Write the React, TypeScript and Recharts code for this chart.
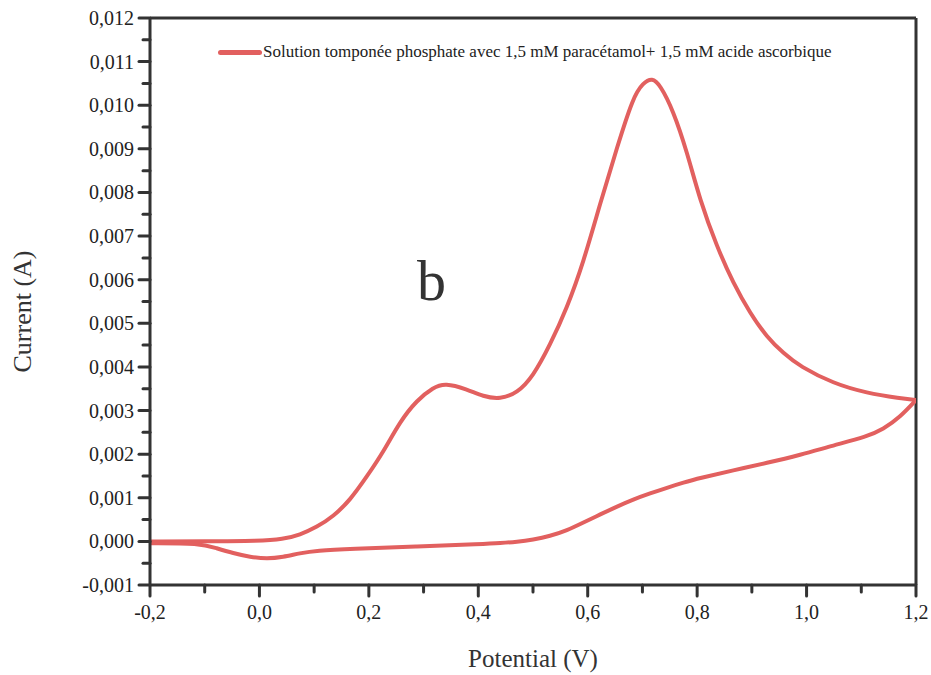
import React from 'react';
import { LineChart, Line, XAxis, YAxis, Legend, ReferenceLine } from 'recharts';

// forward (anodic) sweep, -0.2 V -> 1.2 V
const FORWARD_POTENTIAL = [
  -0.2, -0.1, 0.0, 0.043, 0.074, 0.105, 0.135, 0.166, 0.196, 0.227, 0.257, 0.288,
  0.318, 0.339, 0.379, 0.409, 0.44, 0.471, 0.5, 0.531, 0.562, 0.592, 0.623, 0.654,
  0.683, 0.701, 0.718, 0.732, 0.756, 0.782, 0.805, 0.836, 0.866, 0.897, 0.927, 0.958,
  0.988, 1.049, 1.11, 1.171, 1.2,
];
const FORWARD_CURRENT = [
  0.0, 0.0, 0.00001, 0.00005, 0.00015, 0.00033, 0.00057, 0.00095, 0.00148, 0.00206, 0.00275, 0.00324,
  0.00353, 0.00363, 0.00349, 0.00332, 0.00326, 0.0034, 0.00378, 0.0045, 0.00535, 0.00639, 0.00776, 0.00905,
  0.01019, 0.01051, 0.01063, 0.01047, 0.00989, 0.00891, 0.00783, 0.00676, 0.00592, 0.00523, 0.00469, 0.00431,
  0.00401, 0.00362, 0.0034, 0.00328, 0.00324,
];

// return sweep, listed by increasing potential
const RETURN_POTENTIAL = [
  -0.2, -0.109, -0.078, -0.048, -0.017, 0.014, 0.043, 0.074, 0.105, 0.166, 0.288, 0.409,
  0.44, 0.471, 0.5, 0.531, 0.562, 0.592, 0.623, 0.654, 0.683, 0.714, 0.745, 0.775,
  0.805, 0.866, 0.928, 0.988, 1.049, 1.11, 1.14, 1.171, 1.2,
];
const RETURN_CURRENT = [
  -0.00004, -0.00004, -0.00016, -0.00027, -0.00036, -0.0004, -0.00036, -0.00027, -0.00021, -0.00017, -0.00012, -0.00006,
  -0.00004, -0.00001, 0.00004, 0.00012, 0.00025, 0.00043, 0.00062, 0.0008, 0.00096, 0.0011, 0.00123, 0.00135,
  0.00145, 0.00163, 0.0018, 0.00198, 0.0022, 0.0024, 0.00257, 0.00285, 0.00324,
];

const X_TICKS = [-0.2, -0.1, 0, 0.1, 0.2, 0.3, 0.4, 0.5, 0.6, 0.7, 0.8, 0.9, 1.0, 1.1, 1.2];
const X_MAJOR = [-0.2, 0, 0.2, 0.4, 0.6, 0.8, 1.0, 1.2];
const Y_TICKS = [
  -0.001, -0.0005, 0, 0.0005, 0.001, 0.0015, 0.002, 0.0025, 0.003, 0.0035, 0.004, 0.0045, 0.005,
  0.0055, 0.006, 0.0065, 0.007, 0.0075, 0.008, 0.0085, 0.009, 0.0095, 0.01, 0.0105, 0.011, 0.0115, 0.012,
];
const Y_MAJOR = [-0.001, 0, 0.001, 0.002, 0.003, 0.004, 0.005, 0.006, 0.007, 0.008, 0.009, 0.01, 0.011, 0.012];

const SERIES_NAME = 'Solution tomponée phosphate avec 1,5 mM paracétamol+ 1,5 mM acide ascorbique';

const forwardData = FORWARD_POTENTIAL.map((x, i) => ({ x, y: FORWARD_CURRENT[i] }));
const returnData = RETURN_POTENTIAL.map((x, i) => ({ x, y: RETURN_CURRENT[i] }));

const SERIF = '"Liberation Serif", "DejaVu Serif", serif';
const AXIS = '#333333';
const RED = '#e2605f';

const isMajor = (v: number, list: number[]) => list.some(m => Math.abs(m - v) < 1e-9);

const XTick: React.FC<any> = ({ x, y, payload }) => {
  const major = isMajor(payload.value, X_MAJOR);
  return (
    <g>
      <line x1={x} x2={x} y1={y} y2={y + (major ? 11 : 7)} stroke={AXIS} strokeWidth={3} strokeLinecap="round" />
      {major && (
        <text x={x} y={y + 34} textAnchor="middle" fill="#222" fontSize={20} fontFamily={SERIF}>
          {payload.value.toFixed(1).replace('.', ',')}
        </text>
      )}
    </g>
  );
};

const YTick: React.FC<any> = ({ x, y, payload }) => {
  const major = isMajor(payload.value, Y_MAJOR);
  return (
    <g>
      <line x1={x - (major ? 11 : 7)} x2={x} y1={y} y2={y} stroke={AXIS} strokeWidth={3} strokeLinecap="round" />
      {major && (
        <text x={x - 16} y={y + 7} textAnchor="end" fill="#222" fontSize={20} fontFamily={SERIF}>
          {payload.value.toFixed(3).replace('.', ',')}
        </text>
      )}
    </g>
  );
};

const LegendContent: React.FC<any> = () => (
  <div style={{ display: 'flex', alignItems: 'center', fontFamily: SERIF, fontSize: 17, color: '#222', whiteSpace: 'nowrap' }}>
    <span style={{ display: 'inline-block', width: 44, height: 5, borderRadius: 3, background: RED, marginRight: 1 }} />
    <span>{SERIES_NAME}</span>
  </div>
);

const App: React.FC = () => {
  return (
    <div style={{ position: 'absolute', left: 0, top: 0, width: 931, height: 675, background: '#fff' }}>
      <LineChart width={931} height={675} margin={{ top: 18, right: 15, left: 50, bottom: 40 }}>
        <XAxis
          type="number"
          dataKey="x"
          domain={[-0.2, 1.2]}
          ticks={X_TICKS}
          interval={0}
          allowDataOverflow
          tickSize={0}
          tickMargin={0}
          tickLine={false}
          tick={<XTick />}
          height={50}
          axisLine={{ stroke: AXIS, strokeWidth: 3 }}
          label={{ value: 'Potential (V)', position: 'insideBottom', offset: -32, fill: '#333', fontSize: 25, fontFamily: SERIF }}
        />
        <YAxis
          type="number"
          dataKey="y"
          domain={[-0.001, 0.012]}
          ticks={Y_TICKS}
          interval={0}
          allowDataOverflow
          tickSize={0}
          tickMargin={0}
          tickLine={false}
          tick={<YTick />}
          width={100}
          axisLine={{ stroke: AXIS, strokeWidth: 3 }}
          label={{ value: 'Current (A)', angle: -90, position: 'insideLeft', offset: -28, dy: 10, fill: '#333', fontSize: 26, fontFamily: SERIF, style: { textAnchor: 'middle' } }}
        />
        <ReferenceLine y={0.012} stroke={AXIS} strokeWidth={3} />
        <ReferenceLine x={1.2} stroke={AXIS} strokeWidth={3} />
        <Legend
          layout="vertical"
          align="center"
          verticalAlign="middle"
          content={<LegendContent />}
          wrapperStyle={{ top: 42, left: 218, width: 'auto' }}
        />
        <Line
          data={forwardData}
          dataKey="y"
          name={SERIES_NAME}
          type="basis"
          stroke={RED}
          strokeWidth={4}
          dot={false}
          isAnimationActive={false}
        />
        <Line
          data={returnData}
          dataKey="y"
          legendType="none"
          type="basis"
          stroke={RED}
          strokeWidth={4}
          dot={false}
          isAnimationActive={false}
        />
      </LineChart>
      <div style={{ position: 'absolute', left: 417, top: 252, fontFamily: SERIF, fontSize: 58, color: '#333', lineHeight: 1 }}>
        b
      </div>
    </div>
  );
};

export default App;
